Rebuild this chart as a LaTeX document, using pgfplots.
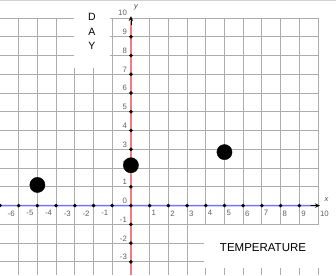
\documentclass[border=0pt]{standalone}
\usepackage{pgfplots}
\pgfplotsset{compat=1.18}
\usepackage{fontspec}
\setmainfont{Liberation Sans}
\usetikzlibrary{arrows.meta}
\definecolor{axred}{RGB}{240,125,125}
\colorlet{axblue}{blue!55!white}
\begin{document}
\begin{tikzpicture}
\begin{axis}[
  scale only axis, width=318pt, height=257pt,
  xmin=-7, xmax=10, ymin=-3.7, ymax=10,
  axis lines=middle,
  clip=false,
  axis line style={draw=none},
  xtick={1,2,...,10},
  extra x ticks={-6,-5,...,-1},
  extra x tick style={xticklabel style={anchor=north east, xshift=1pt}, grid=major},
  xticklabel style={anchor=north west, xshift=-1.5pt, yshift=-1.5pt},
  ytick={-3,-2,...,10},
  yticklabel style={anchor=south east, xshift=-0.5pt, yshift=-1.5pt},
  extra y ticks={0},
  extra y tick style={yticklabel style={anchor=south east}},
  major tick length=0pt,
  grid=major,
  major grid style={gray!65, line width=0.9pt},
  tick label style={font=\fontsize{7.8}{8}\selectfont, text=gray!75!black},
  /pgf/number format/assume math mode=true,
]
\coordinate (bl) at (rel axis cs:0,0);
\draw[gray!35, line width=0.8pt] (axis cs:-7,10.92) -- (axis cs:10.96,10.92);
\fill[white] (axis cs:-3.05,7.32) rectangle (axis cs:-1.12,10.9);
\fill[white] (axis cs:3.9,-1.03) rectangle (axis cs:10.97,-3.32);
\node[align=center, font=\fontsize{10.5}{14.3}\selectfont] at (axis cs:-2.09,9.28) {D\\A\\Y};
\node[font=\fontsize{11.5}{13}\selectfont] at (axis cs:7.06,-2.25) {TEMPERATURE};
% x axis line (in pieces, each with a tiny slope)
\addplot[draw=axblue, line width=1.6pt] coordinates {(-7,-0.001) (-3,0.001)};
\addplot[draw=axblue, line width=1.6pt] coordinates {(-3,-0.001) (1,0.001)};
\addplot[draw=axblue, line width=1.6pt] coordinates {(1,-0.001) (5,0.001)};
\addplot[draw=axblue, line width=1.6pt] coordinates {(5,-0.001) (9.85,0.001)};
% y axis line
\addplot[draw=axred, line width=1.6pt] coordinates {(0,-3.7) (0,9.85)};
\draw[black, line width=0.8pt, -{Stealth[length=5pt,width=4.5pt]}] (axis cs:9.6,0.0005) -- (axis cs:10.1,0);
\draw[black, line width=0.8pt, -{Stealth[length=5pt,width=4.5pt]}] (axis cs:0,9.6) -- (axis cs:0,10.1);
\node[font=\itshape\fontsize{7.5}{8}\selectfont, text=gray!60!black] at (axis cs:0.27,10.55) {y};
\node[font=\itshape\fontsize{7.5}{8}\selectfont, text=gray!60!black] at (axis cs:10.45,0.3) {x};
% tick dots
\addplot[only marks, mark=*, mark size=1.6pt, black] coordinates {
(-7,0)(-6,0)(-5,0)(-4,0)(-3,0)(-2,0)(-1,0)(0,0)(1,0)(2,0)(3,0)(4,0)(5,0)(6,0)(7,0)(8,0)(9,0)
};
\addplot[only marks, mark=*, mark size=1.6pt, black] coordinates {
(0,-3)(0,-2)(0,-1)(0,1)(0,2)(0,3)(0,4)(0,5)(0,6)(0,7)(0,8)(0,9)
};
% data points
\addplot[only marks, mark=*, mark size=7.6pt, black] coordinates {
(-5,1.1)(0,2.15)(5,2.85)
};
\end{axis}
\pgfresetboundingbox
\path (bl) rectangle ++(336pt,275pt);
\end{tikzpicture}
\end{document}
